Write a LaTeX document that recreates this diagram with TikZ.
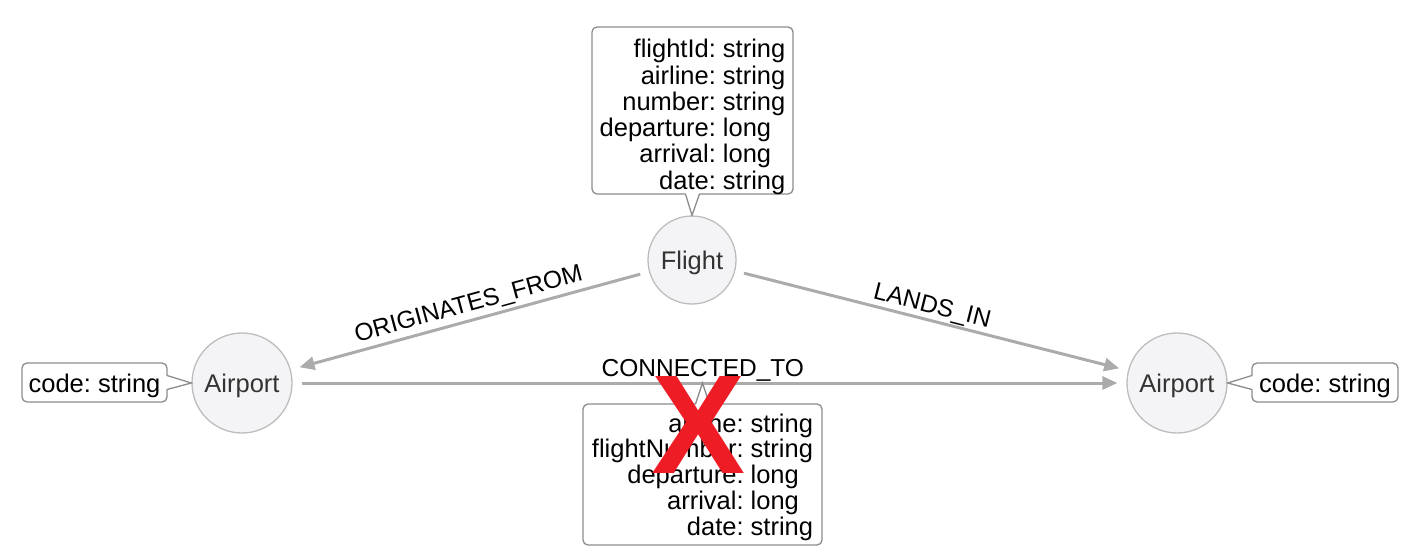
\documentclass[tikz,border=0pt]{standalone}
\usepackage{fontspec}
\setmainfont{Liberation Sans}
\usetikzlibrary{arrows.meta}
\definecolor{edgegray}{HTML}{ABABAB}
\definecolor{circfill}{HTML}{F4F4F6}
\definecolor{circline}{HTML}{BDBDBD}
\definecolor{boxline}{HTML}{8C8C8C}
\definecolor{txtdark}{HTML}{333333}
\definecolor{xred}{HTML}{EE1C25}
\newcommand\lblfont{\fontsize{24.5}{25.5}\selectfont}
\newcommand\propfont{\fontsize{25.5}{25.5}\selectfont}
\frenchspacing
\begin{document}
\frenchspacing
\begin{tikzpicture}[x=1pt,y=-1pt,
  entity/.style={circle, draw=circline, line width=1.3pt, fill=circfill, text=txtdark,
    font=\propfont, text height=18pt, text depth=0pt, inner sep=0pt},
  propbox/.style={draw=boxline, line width=1.3pt, fill=white, rounded corners=5pt,
    font=\propfont, inner xsep=0pt, inner ysep=0pt, outer sep=0pt},
  ptr/.style={draw=boxline, line width=1.3pt, line join=miter},
  rel/.style={draw=edgegray, line width=3pt, -{Triangle[length=15pt,width=13pt]},
    shorten <=9pt, shorten >=9pt},
  lbl/.style={font=\lblfont, inner sep=0pt, anchor=base, text=black},
  xmk/.style={text=xred, font=\fontsize{141}{141}\bfseries\selectfont, inner sep=0pt}]
\useasboundingbox (0,0) rectangle (1412,556);

% entities
\node[entity, minimum size=88pt] (flight) at (692,260) {Flight};
\node[entity, minimum size=100pt] (apL) at (242,383) {Airport};
\node[entity, minimum size=100pt] (apR) at (1177,383) {Airport};

% relations
\draw[rel] (flight) -- node[lbl, sloped, yshift=9pt, xshift=3pt] {ORIGINATES\_FROM} (apL);
\draw[rel] (flight) -- node[lbl, sloped, yshift=7pt, xshift=-3pt] {LANDS\_IN} (apR);
\draw[rel] (apL) -- node[lbl, pos=0.492, yshift=7pt] {CONNECTED\_TO} (apR);

% property boxes
\node[propbox, anchor=north, minimum width=201pt, text height=31pt, text depth=136pt] (fprops) at (692.5,27)
  {\def\arraystretch{1.012}\begin{tabular}[t]{@{}r@{}l@{}}flightId&: string\\ airline&: string\\ number&: string\\ departure&: long\\ arrival&: long\\ date&: string\end{tabular}};
\node[propbox, anchor=north, minimum width=239pt, text height=28pt, text depth=113pt] (cprops) at (702.5,404)
  {\def\arraystretch{0.98}\begin{tabular}[t]{@{}r@{}l@{}}airline&: string\\ flightNumber&: string\\ departure&: long\\ arrival&: long\\ date&: string\end{tabular}};
\node[propbox, anchor=north west, minimum width=145pt, text height=29pt, text depth=10pt] (lprops) at (22,363) {code: string};
\node[propbox, anchor=north west, minimum width=146pt, text height=29pt, text depth=10pt] (rprops) at (1252,363) {code: string};

% pointers
\coordinate (ctip) at (cprops.north |- apL.center);
\fill[white] ([xshift=-7pt,yshift=1.5pt]fprops.south) -- (flight.north) -- ([xshift=7pt,yshift=1.5pt]fprops.south) -- cycle;
\draw[ptr] ([xshift=-7pt]fprops.south) -- (flight.north) -- ([xshift=7pt]fprops.south);
\fill[white] ([xshift=-7pt,yshift=-1.5pt]cprops.north) -- (ctip) -- ([xshift=7pt,yshift=-1.5pt]cprops.north) -- cycle;
\draw[ptr] ([xshift=-7pt]cprops.north) -- (ctip) -- ([xshift=7pt]cprops.north);
\fill[white] ([xshift=-1.5pt,yshift=7pt]lprops.east) -- (apL.west) -- ([xshift=-1.5pt,yshift=-7pt]lprops.east) -- cycle;
\draw[ptr] ([yshift=7pt]lprops.east) -- (apL.west) -- ([yshift=-7pt]lprops.east);
\fill[white] ([xshift=1.5pt,yshift=7pt]rprops.west) -- (apR.east) -- ([xshift=1.5pt,yshift=-7pt]rprops.west) -- cycle;
\draw[ptr] ([yshift=7pt]rprops.west) -- (apR.east) -- ([yshift=-7pt]rprops.west);

% red cross
\node[xmk] (cross) at (699,425) {X};
\end{tikzpicture}
\end{document}
